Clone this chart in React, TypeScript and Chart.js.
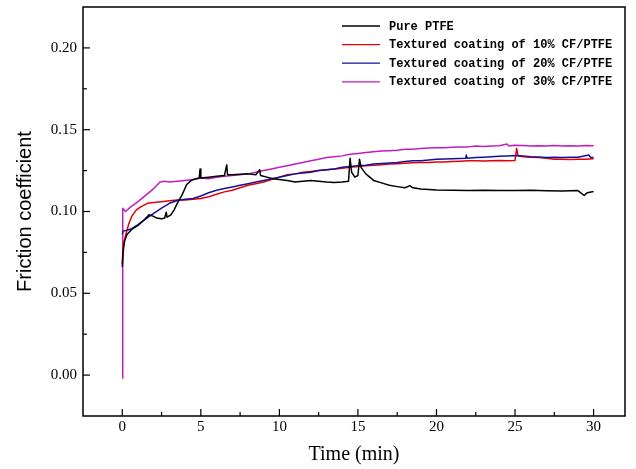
import React, { useEffect, useRef } from "react";
import { Chart, registerables } from "chart.js";

Chart.register(...registerables);

const seriesLabels = [
  "Pure PTFE",
  "Textured coating of 10% CF/PTFE",
  "Textured coating of 20% CF/PTFE",
  "Textured coating of 30% CF/PTFE",
];
const seriesColors = ["#000000", "#e60000", "#12129c", "#c21cc2"];

// [time (min), friction coefficient]
const purePTFE: [number, number][] = [
  [0, 0.066], [0.05, 0.075], [0.15, 0.082], [0.3, 0.086], [0.6, 0.089], [1.0, 0.0915],
  [1.4, 0.095], [1.7, 0.098], [2.0, 0.097], [2.2, 0.096], [2.5, 0.0955], [2.7, 0.096],
  [2.8, 0.0995], [2.85, 0.0965], [3.1, 0.098], [3.3, 0.101], [3.5, 0.105], [3.8, 0.110],
  [4.1, 0.1165], [4.4, 0.119], [4.7, 0.120], [4.9, 0.1205], [4.95, 0.126], [5.0, 0.1205],
  [5.5, 0.121], [6.0, 0.1215], [6.5, 0.122], [6.65, 0.1285], [6.7, 0.1225], [7.0, 0.1225],
  [7.5, 0.1228], [8.0, 0.123], [8.5, 0.1225], [8.75, 0.1255], [8.8, 0.122], [9.2, 0.121],
  [9.6, 0.120], [10.0, 0.1195], [10.5, 0.119], [11.0, 0.118], [11.5, 0.1185], [12.0, 0.119],
  [12.5, 0.1185], [13.0, 0.118], [13.5, 0.1178], [14.0, 0.118], [14.4, 0.1185], [14.5, 0.1325],
  [14.6, 0.124], [14.8, 0.121], [15.0, 0.122], [15.1, 0.132], [15.2, 0.127], [15.5, 0.123],
  [16.0, 0.119], [16.5, 0.1175], [17.0, 0.116], [17.5, 0.1152], [18.0, 0.1145], [18.3, 0.1158],
  [18.5, 0.1145], [19.0, 0.1138], [19.5, 0.1135], [20.0, 0.1132], [21.0, 0.113], [22.0, 0.1128],
  [23.0, 0.113], [24.0, 0.1128], [25.0, 0.1128], [26.0, 0.113], [27.0, 0.1127], [28.0, 0.1125],
  [29.0, 0.1128], [29.4, 0.1098], [29.6, 0.1115], [30.0, 0.1122],
];

const coating10: [number, number][] = [
  [0, 0.068], [0.05, 0.079], [0.2, 0.085], [0.4, 0.092], [0.6, 0.097], [0.9, 0.101],
  [1.2, 0.103], [1.6, 0.105], [2.0, 0.1055], [2.5, 0.106], [3.0, 0.1065], [3.5, 0.107],
  [4.0, 0.107], [4.5, 0.1075], [5.0, 0.108], [5.5, 0.109], [6.0, 0.1105], [6.5, 0.112],
  [7.0, 0.113], [7.5, 0.1145], [8.0, 0.116], [8.5, 0.117], [9.0, 0.118], [9.5, 0.1195],
  [10.0, 0.121], [10.5, 0.1225], [11.0, 0.123], [11.5, 0.124], [12.0, 0.1245], [12.5, 0.125],
  [13.0, 0.1255], [13.5, 0.126], [14.0, 0.1265], [14.5, 0.127], [15.0, 0.1275], [15.5, 0.128],
  [16.0, 0.1283], [16.5, 0.1285], [17.0, 0.129], [17.5, 0.1292], [18.0, 0.1295], [18.5, 0.1298],
  [19.0, 0.130], [19.5, 0.130], [20.0, 0.1303], [20.5, 0.1302], [21.0, 0.1305], [21.5, 0.1307],
  [22.0, 0.131], [22.5, 0.131], [23.0, 0.1308], [23.5, 0.131], [24.0, 0.1312], [24.5, 0.131],
  [25.0, 0.1312], [25.1, 0.1385], [25.2, 0.134], [25.5, 0.1335], [26.0, 0.1332], [26.5, 0.133],
  [27.0, 0.1325], [27.5, 0.132], [28.0, 0.132], [28.5, 0.1318], [29.0, 0.132], [29.5, 0.132],
  [30.0, 0.1322],
];

const coating20: [number, number][] = [
  [0, 0.086], [0.05, 0.088], [0.3, 0.0885], [0.6, 0.0895], [1.0, 0.092], [1.5, 0.0955],
  [2.0, 0.0988], [2.5, 0.102], [3.0, 0.105], [3.5, 0.1067], [4.0, 0.1075], [4.5, 0.108],
  [5.0, 0.1095], [5.5, 0.1115], [6.0, 0.113], [6.5, 0.114], [7.0, 0.115], [7.5, 0.116],
  [8.0, 0.117], [8.5, 0.118], [9.0, 0.119], [9.5, 0.120], [10.0, 0.121], [10.5, 0.122],
  [11.0, 0.123], [11.5, 0.1235], [12.0, 0.124], [12.5, 0.125], [13.0, 0.1255], [13.5, 0.126],
  [14.0, 0.127], [14.5, 0.1275], [15.0, 0.128], [15.5, 0.1283], [16.0, 0.129], [16.5, 0.1293],
  [17.0, 0.1297], [17.5, 0.130], [18.0, 0.1305], [18.5, 0.131], [19.0, 0.131], [19.5, 0.1315],
  [20.0, 0.132], [21.0, 0.1322], [21.85, 0.1325], [21.9, 0.1345], [21.95, 0.1325], [22.5, 0.133],
  [23.0, 0.1332], [23.5, 0.1335], [24.0, 0.1338], [24.5, 0.134], [25.0, 0.1343], [25.5, 0.134],
  [26.0, 0.1335], [26.5, 0.1333], [27.0, 0.133], [27.5, 0.1332], [28.0, 0.133], [28.5, 0.1332],
  [29.0, 0.1332], [29.7, 0.1345], [29.8, 0.1332], [30.0, 0.133],
];

const coating30: [number, number][] = [
  [0, -0.002], [0.03, 0.102], [0.2, 0.100], [0.5, 0.1025], [1.0, 0.106], [1.5, 0.110],
  [2.0, 0.114], [2.4, 0.118], [2.7, 0.1185], [3.0, 0.118], [3.5, 0.1185], [4.0, 0.119],
  [4.5, 0.1195], [5.0, 0.1205], [5.5, 0.120], [6.0, 0.121], [6.5, 0.1215], [7.0, 0.122],
  [7.5, 0.1225], [8.0, 0.123], [8.5, 0.124], [9.0, 0.125], [9.5, 0.126], [10.0, 0.127],
  [10.5, 0.128], [11.0, 0.129], [11.5, 0.130], [12.0, 0.131], [12.5, 0.132], [13.0, 0.133],
  [13.5, 0.1335], [14.0, 0.134], [14.5, 0.135], [15.0, 0.1355], [15.5, 0.136], [16.0, 0.1365],
  [16.5, 0.137], [17.0, 0.1372], [17.5, 0.1375], [18.0, 0.138], [18.5, 0.138], [19.0, 0.1385],
  [19.5, 0.1388], [20.0, 0.139], [20.5, 0.139], [21.0, 0.1392], [21.5, 0.1395], [22.0, 0.1395],
  [22.5, 0.140], [23.0, 0.1398], [23.5, 0.140], [24.0, 0.1402], [24.5, 0.1412], [24.6, 0.140],
  [25.0, 0.1405], [25.5, 0.1403], [26.0, 0.140], [26.5, 0.1402], [27.0, 0.140], [27.5, 0.1403],
  [28.0, 0.140], [28.5, 0.1402], [29.0, 0.140], [29.5, 0.1403], [30.0, 0.1402],
];

const xTicks = [0, 5, 10, 15, 20, 25, 30];
const xMinorTicks = [2.5, 7.5, 12.5, 17.5, 22.5, 27.5];
const yTicks = [0, 0.05, 0.1, 0.15, 0.2];
const yMinorTicks = [0.025, 0.075, 0.125, 0.175];

const frameAndLegend = {
  id: "frameAndLegend",
  afterDatasetsDraw(chart: any) {
    const { ctx, chartArea: a, scales } = chart;
    const x = scales.x;
    const y = scales.y;
    ctx.save();
    ctx.strokeStyle = "#000";
    ctx.lineWidth = 1.5;
    ctx.strokeRect(a.left, a.top, a.right - a.left, a.bottom - a.top);
    ctx.lineWidth = 1.2;
    const tickX = (v: number, len: number) => {
      const px = x.getPixelForValue(v);
      ctx.beginPath();
      ctx.moveTo(px, a.bottom);
      ctx.lineTo(px, a.bottom - len);
      ctx.stroke();
    };
    const tickY = (v: number, len: number) => {
      const py = y.getPixelForValue(v);
      ctx.beginPath();
      ctx.moveTo(a.left, py);
      ctx.lineTo(a.left + len, py);
      ctx.stroke();
    };
    xTicks.forEach((v) => tickX(v, 7));
    xMinorTicks.forEach((v) => tickX(v, 4));
    yTicks.forEach((v) => tickY(v, 7));
    yMinorTicks.forEach((v) => tickY(v, 4));

    // legend
    const lx0 = a.left + 259;
    const lx1 = lx0 + 38;
    const tx = lx1 + 9;
    ctx.font = "bold 12px 'Liberation Mono', monospace";
    ctx.textBaseline = "middle";
    ctx.textAlign = "left";
    seriesLabels.forEach((label, i) => {
      const ly = a.top + 19 + i * 18.6;
      ctx.strokeStyle = seriesColors[i];
      ctx.lineWidth = 1.3;
      ctx.beginPath();
      ctx.moveTo(lx0, ly);
      ctx.lineTo(lx1, ly);
      ctx.stroke();
      ctx.fillStyle = "#000";
      ctx.fillText(label, tx, ly + 0.5);
    });
    ctx.restore();
  },
};

export default function App() {
  const canvasRef = useRef<HTMLCanvasElement | null>(null);

  useEffect(() => {
    if (!canvasRef.current) return;
    const allSeries = [purePTFE, coating10, coating20, coating30];
    const drawOrder = [1, 3, 2, 4];
    const chart = new Chart(canvasRef.current, {
      type: "line",
      data: {
        datasets: allSeries.map((s, i) => ({
          label: seriesLabels[i],
          data: s.map(([t, v]) => ({ x: t, y: v })),
          borderColor: seriesColors[i],
          backgroundColor: seriesColors[i],
          borderWidth: 1.5,
          pointRadius: 0,
          tension: 0,
          fill: false,
          borderJoinStyle: "round" as const,
          order: drawOrder[i],
        })),
      },
      options: {
        responsive: false,
        animation: false,
        layout: { padding: { left: 0, right: 11, top: 7, bottom: 0 } },
        plugins: {
          legend: { display: false },
          tooltip: { enabled: false },
        },
        scales: {
          x: {
            type: "linear",
            min: -2.5,
            max: 32,
            afterBuildTicks: (s: any) => {
              s.ticks = xTicks.map((v) => ({ value: v }));
            },
            afterFit: (s: any) => {
              s.height = 53;
              s.paddingLeft = 0;
              s.paddingRight = 0;
            },
            grid: { display: false, drawTicks: false },
            border: { display: false },
            ticks: {
              padding: 2,
              color: "#000",
              font: { family: "'Liberation Serif', serif", size: 15 },
              maxRotation: 0,
              callback: (v: any) => String(v),
            },
            title: {
              display: true,
              text: "Time (min)",
              color: "#000",
              font: { family: "'Liberation Serif', serif", size: 20 },
              padding: { top: 0, bottom: 2 },
            },
          },
          y: {
            type: "linear",
            min: -0.025,
            max: 0.225,
            afterBuildTicks: (s: any) => {
              s.ticks = yTicks.map((v) => ({ value: v }));
            },
            afterFit: (s: any) => {
              s.width = 83;
              s.paddingTop = 0;
              s.paddingBottom = 0;
            },
            grid: { display: false, drawTicks: false },
            border: { display: false },
            ticks: {
              padding: 6,
              color: "#000",
              font: { family: "'Liberation Serif', serif", size: 15 },
              callback: (v: any) => Number(v).toFixed(2),
            },
            title: {
              display: true,
              text: "Friction coefficient",
              color: "#000",
              font: { family: "'Liberation Sans', sans-serif", size: 20 },
              padding: { top: 13, bottom: 0 },
            },
          },
        },
      },
      plugins: [frameAndLegend],
    });
    return () => chart.destroy();
  }, []);

  return (
    <div style={{ position: "fixed", left: 0, top: 0, width: 636, height: 469, background: "#fff" }}>
      <canvas ref={canvasRef} width={636} height={469} style={{ display: "block" }} />
    </div>
  );
}
